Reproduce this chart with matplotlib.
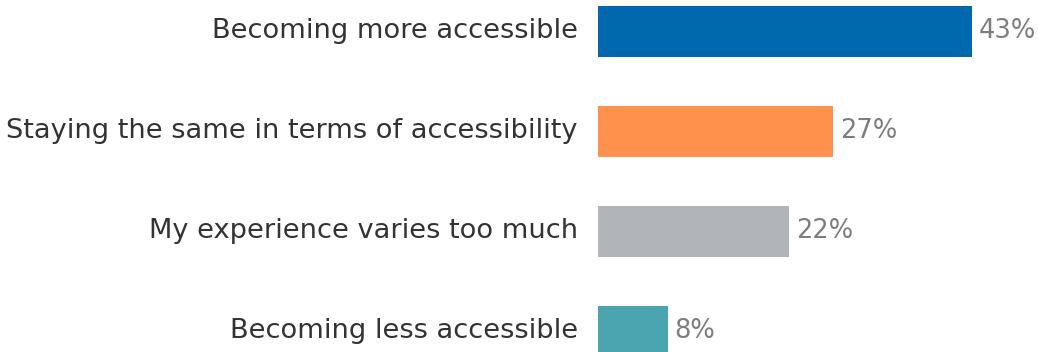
import matplotlib

matplotlib.use('Agg')
import matplotlib.pyplot as plt

# survey answers, top to bottom
labels = ['Becoming more accessible',
          'Staying the same in terms of accessibility',
          'My experience varies too much',
          'Becoming less accessible']
values = [43, 27, 22, 8]
colors = ['#0069AD', '#FF914D', '#B1B5B9', '#4BA5B0']

plt.rcParams['font.family'] = ['DejaVu Sans']

fig = plt.figure(figsize=(10.38, 3.52), dpi=100)
ax = fig.add_axes([598 / 1038, 0, 440 / 1038, 1])

pos = list(range(len(values)))
ax.barh(pos, values, height=0.51, color=colors)

for p, v, lab in zip(pos, values, labels):
    ax.text(v + 0.8, p, f'{v}%', va='center', ha='left',
            fontsize=18.5, color='#7d7d7d')
    ax.text(-2.3, p, lab, va='center', ha='right',
            fontsize=19.6, color='#333333')

ax.set_xlim(0, 440 / 8.7)
ax.set_ylim(3.205, -0.315)
ax.axis('off')

fig.savefig('out.png', dpi=100)
